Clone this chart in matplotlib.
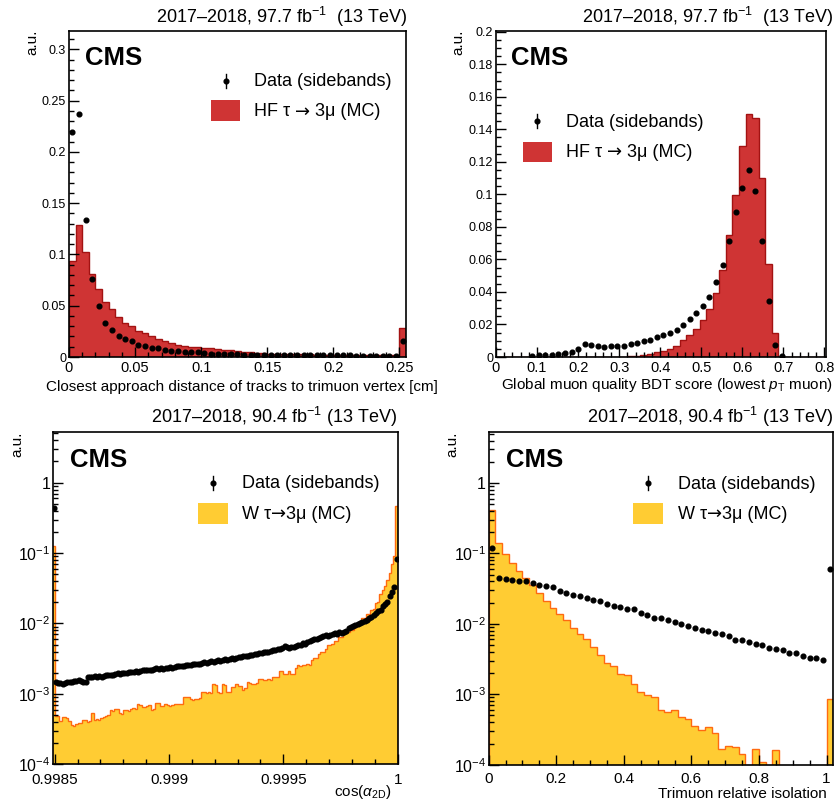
import numpy as np
import matplotlib
matplotlib.use("Agg")
import matplotlib.pyplot as plt
from matplotlib.lines import Line2D
from matplotlib.patches import Rectangle
from matplotlib.offsetbox import TextArea, HPacker, AnnotationBbox
from matplotlib.ticker import MultipleLocator, FixedLocator, FuncFormatter, LogLocator, NullFormatter

plt.rcParams['font.family'] = ['Liberation Sans', 'DejaVu Sans']
plt.rcParams['mathtext.fontset'] = 'custom'
plt.rcParams['mathtext.rm'] = 'Liberation Sans'
plt.rcParams['mathtext.it'] = 'Liberation Sans:italic'
plt.rcParams['mathtext.bf'] = 'Liberation Sans:bold'

# ---------------- DATA ----------------

# closest approach distance, 0.005 cm bins from 0 to 0.255 (last bin = overflow)
dca_mc = [0.094, 0.129, 0.102, 0.081, 0.066, 0.054, 0.047, 0.039, 0.033, 0.030,
          0.025, 0.023, 0.020, 0.018, 0.0155, 0.014, 0.012, 0.011, 0.010, 0.0099,
          0.0092, 0.0085, 0.0079, 0.0072, 0.0066, 0.0060, 0.0053, 0.0046, 0.0040, 0.0036,
          0.0033, 0.0031, 0.0029, 0.0028, 0.0027, 0.0026, 0.0025, 0.0024, 0.0023, 0.0023,
          0.0022, 0.0021, 0.0021, 0.0020, 0.0020, 0.0019, 0.0019, 0.0018, 0.0018, 0.0017,
          0.0286]
dca_data = [0.219, 0.237, 0.134, 0.076, 0.050, 0.0335, 0.026, 0.020, 0.018, 0.0155,
            0.012, 0.0105, 0.0092, 0.0089, 0.0072, 0.0062, 0.0056, 0.0053, 0.0046, 0.0046,
            0.0039, 0.0033, 0.0030, 0.0030, 0.0026, 0.0026, 0.0024, 0.0023, 0.0022, 0.0021,
            0.0021, 0.0020, 0.0019, 0.0019, 0.0018, 0.0018, 0.0017, 0.0017, 0.0016, 0.0016,
            0.0015, 0.0015, 0.0015, 0.0014, 0.0014, 0.0014, 0.0013, 0.0013, 0.0013, 0.0012,
            0.016]

# muon BDT score, 0.016 bins from 0 to 0.8
bdt_mc = [0, 0, 0, 0, 0, 0, 0, 0, 0, 0,
          0, 0, 0.0001, 0.0001, 0.0001, 0.0001, 0.0001, 0.0002, 0.0002, 0.0002,
          0.0004, 0.0008, 0.0014, 0.0020, 0.0033, 0.0037, 0.0050, 0.0070, 0.0103, 0.0134,
          0.0175, 0.0227, 0.0295, 0.0396, 0.0536, 0.0748, 0.0994, 0.130, 0.1495, 0.1468,
          0.110, 0.0573, 0.015, 0, 0, 0, 0, 0, 0, 0]
bdt_data = [0, 0, 0, 0, 0, 0.0005, 0.0010, 0.0010, 0.0012, 0.0016,
            0.0023, 0.0033, 0.0052, 0.0082, 0.0076, 0.0068, 0.0060, 0.0070, 0.0070, 0.0066,
            0.0080, 0.0089, 0.0097, 0.0105, 0.0122, 0.0134, 0.0150, 0.0163, 0.0194, 0.0233,
            0.0270, 0.0313, 0.0371, 0.0462, 0.0567, 0.0713, 0.089, 0.104, 0.115, 0.102,
            0.0713, 0.0346, 0.0074, 0.0004, 0, 0, 0, 0, 0, 0]

# cos(alpha_2D), 1e-5 bins from 0.9985 to 1, plus underflow
cos_mc_under = 0.127
cos_data_under = 0.44
cos_mc = [0.00049, 0.00049, 0.00041, 0.00047, 0.00047, 0.00046, 0.00041, 0.00036, 0.00035, 0.00037,
          0.00038, 0.00038, 0.00043, 0.00042, 0.00040, 0.00041, 0.00053, 0.00043, 0.00044, 0.00043,
          0.00046, 0.00047, 0.00049, 0.00050, 0.00059, 0.00058, 0.00062, 0.00061, 0.00053, 0.00052,
          0.00060, 0.00059, 0.00058, 0.00062, 0.00063, 0.00062, 0.00071, 0.00070, 0.00065, 0.00066,
          0.00068, 0.00069, 0.00060, 0.00061, 0.00075, 0.00074, 0.00067, 0.00068, 0.00071, 0.00070,
          0.00068, 0.00069, 0.00073, 0.00072, 0.00071, 0.00072, 0.00091, 0.00090, 0.00089, 0.00084,
          0.00083, 0.00086, 0.00085, 0.00088, 0.00107, 0.00105, 0.00104, 0.00106, 0.00103, 0.00136,
          0.00132, 0.00107, 0.00104, 0.00136, 0.00135, 0.00107, 0.00108, 0.00126, 0.00125, 0.00140,
          0.00130, 0.00130, 0.00115, 0.00120, 0.00148, 0.00145, 0.00140, 0.00140, 0.00142, 0.00165,
          0.00163, 0.00160, 0.00158, 0.00162, 0.00160, 0.00175, 0.00172, 0.00176, 0.00210, 0.00210,
          0.00190, 0.00190, 0.00210, 0.00190, 0.00190, 0.00230, 0.00260, 0.00250, 0.00260, 0.00260,
          0.00270, 0.00260, 0.00300, 0.00320, 0.00320, 0.00370, 0.00390, 0.00390, 0.00440, 0.00490,
          0.00490, 0.00510, 0.00570, 0.00570, 0.00640, 0.00640, 0.00710, 0.00730, 0.00760, 0.00800,
          0.0082, 0.0089, 0.0102, 0.0107, 0.0118, 0.0120, 0.0136, 0.0138, 0.0155, 0.0160,
          0.0195, 0.0205, 0.0260, 0.0300, 0.0340, 0.0420, 0.0530, 0.0700, 0.0910, 0.46]
cos_data = [0.00148, 0.00142, 0.00145, 0.00140, 0.00143, 0.00147, 0.00148, 0.00150, 0.00152, 0.00151,
            0.00155, 0.00153, 0.00150, 0.00147, 0.00172, 0.00176, 0.00174, 0.00178, 0.00175, 0.00180,
            0.00176, 0.00182, 0.00185, 0.00183, 0.00188, 0.00185, 0.00190, 0.00195, 0.00190, 0.00198,
            0.00196, 0.00200, 0.00205, 0.00202, 0.00208, 0.00210, 0.00205, 0.00212, 0.00220, 0.00215,
            0.00218, 0.00222, 0.00220, 0.00225, 0.00230, 0.00226, 0.00230, 0.00228, 0.00235, 0.00230,
            0.00238, 0.00232, 0.00240, 0.00245, 0.00250, 0.00248, 0.00252, 0.00255, 0.00260, 0.00258,
            0.00262, 0.00265, 0.00270, 0.00268, 0.00275, 0.00280, 0.00278, 0.00285, 0.00290, 0.00288,
            0.00295, 0.00300, 0.00298, 0.00305, 0.00310, 0.00308, 0.00315, 0.00320, 0.00318, 0.00325,
            0.00330, 0.00335, 0.00340, 0.00350, 0.00345, 0.00355, 0.00360, 0.00365, 0.00370, 0.00380,
            0.00385, 0.00390, 0.00395, 0.00400, 0.00410, 0.00420, 0.00415, 0.00430, 0.00440, 0.00450,
            0.00480, 0.00460, 0.00450, 0.00470, 0.00460, 0.00480, 0.00490, 0.00500, 0.00520, 0.00510,
            0.00540, 0.00560, 0.00590, 0.00610, 0.00600, 0.00630, 0.00640, 0.00660, 0.00680, 0.00670,
            0.00690, 0.00710, 0.00730, 0.00720, 0.00750, 0.00740, 0.00760, 0.00780, 0.00860, 0.00880,
            0.0092, 0.0095, 0.0099, 0.0103, 0.0106, 0.0108, 0.0112, 0.0118, 0.0124, 0.0132,
            0.0142, 0.0150, 0.0158, 0.0175, 0.0190, 0.0205, 0.0246, 0.0280, 0.0327, 0.0830]

# trimuon relative isolation, 0.02 bins from 0 to 1.02 (last bin = overflow)
iso_mc = [0.41, 0.139, 0.0975, 0.073, 0.0555, 0.0447, 0.0353, 0.027, 0.0214, 0.0169,
          0.0136, 0.0113, 0.0088, 0.0071, 0.0060, 0.0047, 0.0036, 0.0028, 0.0025, 0.00194,
          0.00188, 0.0014, 0.00107, 0.00098, 0.00090, 0.00059, 0.00056, 0.00059, 0.00047, 0.00044,
          0.00036, 0.00031, 0.00034, 0.00028, 0.000166, 0.000185, 0.00018, 0.000144, 0, 0.000165,
          0.000108, 0, 0.00016, 0, 0, 0, 0, 0, 0, 0,
          0.00086]
iso_data = [0.12, 0.0447, 0.0433, 0.0415, 0.041, 0.0405, 0.038, 0.036, 0.0349, 0.033,
            0.0297, 0.0272, 0.0257, 0.0247, 0.0236, 0.0221, 0.0209, 0.0192, 0.0182, 0.0173,
            0.0163, 0.016, 0.0144, 0.0133, 0.0122, 0.012, 0.0113, 0.0106, 0.0100, 0.0093,
            0.0087, 0.0083, 0.0078, 0.0075, 0.0072, 0.0067, 0.0059, 0.0059, 0.0055, 0.0051,
            0.0050, 0.0046, 0.0044, 0.0042, 0.0039, 0.0038, 0.0035, 0.0033, 0.0033, 0.0031,
            0.060]

RED, RED_EDGE = '#cf3434', '#a31212'
YELLOW, ORANGE = '#ffcc33', '#ff6a10'

# legend labels split so the arrow can come from DejaVu Sans
hf_parts = ['HF \u03c4 ', '\u2192', ' 3\u03bc (MC)']
w_parts = ['W \u03c4', '\u2192', '3\u03bc (MC)']

# ---------------- LAYOUT HELPERS ----------------

W, H = 837, 805
fig = plt.figure(figsize=(W / 100, H / 100), dpi=100)


def fx(x):
    return x / W


def fy(y):
    return 1 - y / H


def make_axes(left, top, right, bottom):
    return fig.add_axes([fx(left), fy(bottom), (right - left) / W, (bottom - top) / H])


def style_axes(ax, xsize, ysize, xpad=3):
    ax.tick_params(which='both', direction='in', top=False, right=False, width=1.0)
    ax.tick_params(which='major', length=7.5)
    ax.tick_params(which='minor', length=3.8)
    ax.tick_params(axis='x', labelsize=xsize, pad=xpad)
    ax.tick_params(axis='y', labelsize=ysize, pad=2)
    for s in ax.spines.values():
        s.set_linewidth(1.2)


def draw_hist(ax, edges, mc, data, fill, edge, log=False):
    edges = np.asarray(edges, float)
    mc = np.asarray(mc, float)
    data = np.asarray(data, float)
    base = 1e-6 if log else 0.0
    vals = np.where(mc > 0, mc, base)
    ax.stairs(vals, edges, baseline=base, fill=True, facecolor=fill, edgecolor='none')
    ax.stairs(vals, edges, baseline=base, fill=False, color=edge, lw=1.0)
    centers = 0.5 * (edges[:-1] + edges[1:])
    keep = data > 0
    ax.plot(centers[keep], data[keep], 'o', color='k', ms=3.4, zorder=3)


def mixed_text(x, y, parts):
    # x, y = left edge and baseline in pixels
    areas = []
    for i, t in enumerate(parts):
        props = dict(fontsize=13)
        if i == 1:
            props['family'] = ['DejaVu Sans']
        areas.append(TextArea(t, textprops=props))
    box = HPacker(children=areas, align='baseline', pad=0, sep=0)
    ab = AnnotationBbox(box, (fx(x), fy(y + 3.8)), xycoords='figure fraction',
                        box_alignment=(0, 0), frameon=False, pad=0)
    fig.add_artist(ab)


def add_legend(mx, my, tx, data_y, box, mc_y, parts, fill):
    fig.add_artist(Line2D([fx(mx), fx(mx)], [fy(my - 7), fy(my + 7)], color='k', lw=1.0,
                          transform=fig.transFigure))
    fig.add_artist(Line2D([fx(mx)], [fy(my)], marker='o', ms=3.4, color='k',
                          transform=fig.transFigure))
    fig.text(fx(tx), fy(data_y), 'Data (sidebands)', fontsize=13, va='baseline')
    x0, y0, x1, y1 = box
    fig.add_artist(Rectangle((fx(x0), fy(y1)), (x1 - x0) / W, (y1 - y0) / H,
                             transform=fig.transFigure, facecolor=fill, edgecolor='none'))
    mixed_text(tx, mc_y, parts)


def decorate(cms_xy, title_xy, title, au_xy):
    fig.text(fx(cms_xy[0]), fy(cms_xy[1]), 'CMS', fontsize=18.5, fontweight='bold', va='baseline')
    fig.text(fx(title_xy[0]), fy(title_xy[1]), title, fontsize=13, ha='right', va='baseline')
    fig.text(fx(au_xy[0]), fy(au_xy[1]), 'a.u.', fontsize=11, rotation=90, ha='center', va='top')


plain = FuncFormatter(lambda v, p: f'{v:g}')


def log_label(v, p):
    e = int(round(np.log10(v)))
    return '1' if e == 0 else rf'$10^{{{e}}}$'


def log_y(ax):
    ax.set_yscale('log')
    ax.set_ylim(1e-4, 5.3)
    ax.yaxis.set_major_locator(FixedLocator([1e-4, 1e-3, 1e-2, 1e-1, 1]))
    ax.yaxis.set_major_formatter(FuncFormatter(log_label))
    ax.yaxis.set_minor_locator(LogLocator(base=10, subs=np.arange(2, 10), numticks=20))
    ax.yaxis.set_minor_formatter(NullFormatter())


title_977 = '2017\u20132018, 97.7 fb$^{-1}$  (13 TeV)'
title_904 = '2017\u20132018, 90.4 fb$^{-1}$ (13 TeV)'

# ---------------- closest approach distance ----------------

ax1 = make_axes(69, 31, 406, 357)
draw_hist(ax1, np.linspace(0, 0.255, 52), dca_mc, dca_data, RED, RED_EDGE)
ax1.set_xlim(0, 0.255)
ax1.set_ylim(0, 0.318)
ax1.xaxis.set_major_locator(MultipleLocator(0.05))
ax1.xaxis.set_minor_locator(MultipleLocator(0.01))
ax1.yaxis.set_major_locator(MultipleLocator(0.05))
ax1.yaxis.set_minor_locator(MultipleLocator(0.01))
ax1.xaxis.set_major_formatter(plain)
ax1.yaxis.set_major_formatter(plain)
style_axes(ax1, 10.5, 9)
fig.text(fx(438), fy(391.5), 'Closest approach distance of tracks to trimuon vertex [cm]',
         fontsize=11, ha='right', va='baseline')
decorate((85, 65), (407, 22.7), title_977, (32, 30))
add_legend(226, 81, 254, 86, (211, 100, 240, 121), 116.7, hf_parts, RED)

# ---------------- global muon BDT ----------------

ax2 = make_axes(496, 31, 826, 357)
draw_hist(ax2, np.linspace(0, 0.8, 51), bdt_mc, bdt_data, RED, RED_EDGE)
ax2.set_xlim(0, 0.804)
ax2.set_ylim(0, 0.2005)
ax2.xaxis.set_major_locator(MultipleLocator(0.1))
ax2.xaxis.set_minor_locator(MultipleLocator(0.02))
ax2.yaxis.set_major_locator(MultipleLocator(0.02))
ax2.yaxis.set_minor_locator(MultipleLocator(0.005))
ax2.xaxis.set_major_formatter(plain)
ax2.yaxis.set_major_formatter(plain)
style_axes(ax2, 10.5, 9)
fig.text(fx(833), fy(388.5), r'Global muon quality BDT score (lowest $p_{\mathrm{T}}$ muon)',
         fontsize=11, ha='right', va='baseline')
decorate((511, 65), (833, 22.7), title_977, (458, 30))
add_legend(537, 121, 566, 127, (523, 142, 552, 162), 157.3, hf_parts, RED)

# ---------------- cos(alpha_2D) ----------------

ax3 = make_axes(53.3, 431.7, 397.7, 764.3)
cos_edges = np.concatenate([[0.99849], np.linspace(0.9985, 1.0, 151)])
draw_hist(ax3, cos_edges, [cos_mc_under] + cos_mc, [cos_data_under] + cos_data,
          YELLOW, ORANGE, log=True)
ax3.set_xlim(0.998494, 1.0)
log_y(ax3)
ax3.xaxis.set_major_locator(FixedLocator([0.9985, 0.999, 0.9995, 1.0]))
ax3.xaxis.set_minor_locator(MultipleLocator(0.0001))
ax3.xaxis.set_major_formatter(plain)
style_axes(ax3, 11, 11.5, xpad=6)
fig.text(fx(392), fy(796), r'cos($\alpha_{\mathrm{2D}}$)', fontsize=11, ha='right', va='baseline')
decorate((70, 466.7), (397, 423), title_904, (17, 432))
add_legend(213, 483, 242, 488.3, (198, 503, 228, 524), 519.3, w_parts, YELLOW)

# ---------------- trimuon isolation ----------------

ax4 = make_axes(488.7, 432, 833.3, 764.7)
draw_hist(ax4, np.linspace(0, 1.02, 52), iso_mc, iso_data, YELLOW, ORANGE, log=True)
ax4.set_xlim(0, 1.02)
log_y(ax4)
ax4.xaxis.set_major_locator(MultipleLocator(0.2))
ax4.xaxis.set_minor_locator(MultipleLocator(0.05))
ax4.xaxis.set_major_formatter(plain)
style_axes(ax4, 11, 11.5, xpad=5)
fig.text(fx(827), fy(798), 'Trimuon relative isolation', fontsize=11, ha='right', va='baseline')
decorate((505.7, 466.7), (833, 423), title_904, (452, 432))
add_legend(648, 483, 678, 488.7, (633, 503, 663, 524), 519.3, w_parts, YELLOW)

fig.savefig('out.png', dpi=100)
